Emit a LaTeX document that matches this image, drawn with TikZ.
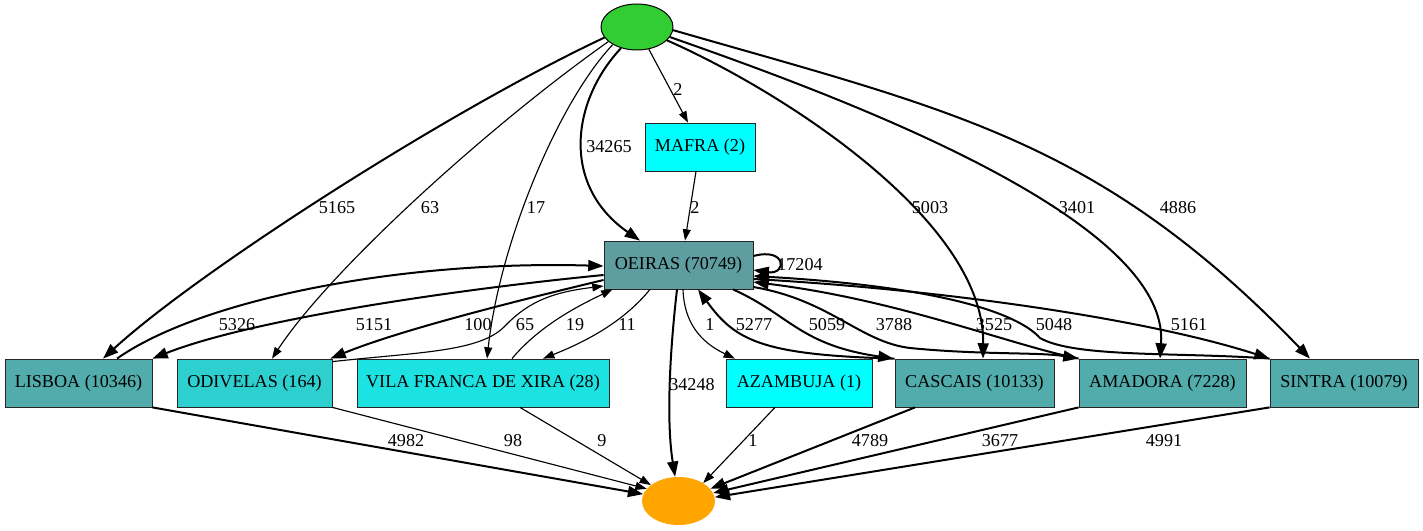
\documentclass[tikz,border=0pt]{standalone}
\usepackage{fontspec}
\setmainfont{Liberation Serif}
\usetikzlibrary{arrows.meta,shapes.geometric,calc}

\definecolor{srcgreen}{HTML}{32CD32}
\definecolor{sinkorange}{HTML}{FFA500}
\definecolor{hubfill}{HTML}{5F9EA0}
\definecolor{bigfill}{HTML}{52ACAC}
\definecolor{odivfill}{HTML}{2ECFCF}
\definecolor{vilafill}{HTML}{1DE2E2}
\definecolor{tinyfill}{HTML}{00FFFF}

\newcommand{\lblfont}{\fontsize{13.6pt}{16pt}\selectfont}

\tikzset{
  box/.style={rectangle, draw=black!85, line width=0.6pt, minimum height=36pt,
    inner sep=0pt, font=\lblfont},
  flowthin/.style={line width=0.85pt, -{Triangle[length=8.5pt,width=6pt]}},
  flowthick/.style={line width=1.5pt, -{Triangle[length=11.5pt,width=8.2pt]}},
  elabel/.style={font=\lblfont, inner sep=0pt}
}

\begin{document}
\begin{tikzpicture}[x=0.75pt, y=-0.75pt]
\useasboundingbox (0,0) rectangle (1423,531);

% terminals
\node[ellipse, draw=black, line width=0.75pt, fill=srcgreen,
      minimum width=54pt, minimum height=34.5pt, inner sep=0pt] (source) at (637,27) {};
\node[ellipse, fill=sinkorange,
      minimum width=54.75pt, minimum height=36pt, inner sep=0pt] (sink) at (678.5,501) {};

% municipalities
\node[box, fill=tinyfill, minimum width=82.5pt]  (mafra)    at (700,147)   {MAFRA (2)};
\node[box, fill=hubfill,  minimum width=111.75pt] (oeiras)  at (678.5,265) {OEIRAS (70749)};
\node[box, fill=bigfill,  minimum width=110.25pt] (lisboa)  at (78.5,383)  {LISBOA (10346)};
\node[box, fill=odivfill, minimum width=116.25pt] (odivelas) at (254.5,383) {ODIVELAS (164)};
\node[box, fill=vilafill, minimum width=189pt]    (vila)    at (483,383)   {VILA FRANCA DE XIRA (28)};
\node[box, fill=tinyfill, minimum width=109.5pt]  (azambuja) at (799,383)  {AZAMBUJA (1)};
\node[box, fill=bigfill,  minimum width=119.25pt] (cascais) at (974.5,383) {CASCAIS (10133)};
\node[box, fill=bigfill,  minimum width=125.25pt] (amadora) at (1162.5,383) {AMADORA (7228)};
\node[box, fill=bigfill,  minimum width=111pt]    (sintra)  at (1344,383)  {SINTRA (10079)};

% flows leaving the source
\draw[flowthick] (source.198) .. controls (450,110) and (200,270) .. ($(lisboa.north)+(24.5,0)$)
  node[elabel] at (337,208) {5165};
\draw[flowthin] (source.207) .. controls (490,125) and (330,270) .. ($(odivelas.north)+(17.5,0)$)
  node[elabel] at (430,208) {63};
\draw[flowthin] (source.216) .. controls (560,100) and (500,240) .. ($(vila.north)+(4,0)$)
  node[elabel] at (536,208) {17};
\draw[flowthick] (source.233) .. controls (572,100) and (560,185) .. ($(oeiras.north)+(-38.5,0)$)
  node[elabel] at (609,147) {34265};
\draw[flowthin] (source.298) -- ($(mafra.north)+(-12,0)$)
  node[elabel] at (678,89) {2};
\draw[flowthick] (source.336) .. controls (780,90) and (985,220) .. ($(cascais.north)+(8.5,0)$)
  node[elabel] at (930,208) {5003};
\draw[flowthick] (source.343) .. controls (850,100) and (1170,220) .. ($(amadora.north)+(-2.5,0)$)
  node[elabel] at (1077,208) {3401};
\draw[flowthick] (source.355) .. controls (950,110) and (1100,140) .. ($(sintra.north)+(-34,0)$)
  node[elabel] at (1178,208) {4886};

% MAFRA into OEIRAS
\draw[flowthin] ($(mafra.south)+(-4,0)$) -- ($(oeiras.north)+(6.5,0)$)
  node[elabel] at (695,207) {2};

% OEIRAS self loop
\draw[flowthick] ($(oeiras.east)+(0,-9)$) .. controls (787,247) and (787,275) .. ($(oeiras.east)+(0,5)$)
  node[elabel] at (800,265) {17204};

% exchanges on the left side
\draw[flowthick] ($(lisboa.north)+(38.5,0)$) .. controls (200,300) and (400,260) .. ($(oeiras.west)+(0,1)$)
  node[elabel] at (237,325) {5326};
\draw[flowthick] ($(oeiras.west)+(0,10)$) .. controls (450,290) and (250,320) .. (lisboa.north east)
  node[elabel] at (374,325) {5151};
\draw[flowthick] ($(oeiras.west)+(0,15)$) .. controls (520,300) and (400,330) .. ($(odivelas.north east)+(-2,0)$)
  node[elabel] at (478,325) {100};
\draw[flowthin] ($(odivelas.north east)+(0,3)$) .. controls (420,352) and (480,352) .. (505,326)
  .. controls (530,300) and (555,292) .. ($(oeiras.west)+(0,21)$)
  node[elabel] at (525,325) {65};
\draw[flowthin] ($(vila.north)+(29,0)$) .. controls (540,325) and (580,305) .. ($(oeiras.south)+(-66,0)$)
  node[elabel] at (575,325) {19};
\draw[flowthin] ($(oeiras.south)+(-28.5,0)$) .. controls (625,320) and (590,340) .. ($(vila.north)+(60,0)$)
  node[elabel] at (627,325) {11};

% OEIRAS downwards
\draw[flowthick] ($(oeiras.south)+(-1.5,0)$) .. controls (670,350) and (666,420) .. (sink.98)
  node[elabel] at (692,385) {34248};
\draw[flowthin] ($(oeiras.south)+(4.5,0)$) .. controls (684,322) and (700,342) .. ($(azambuja.north)+(-64,0)$)
  node[elabel] at (710,325) {1};

% exchanges on the right side
\draw[flowthick] (cascais.north west) .. controls (760,355) and (735,340) .. ($(oeiras.south)+(19.5,0)$)
  node[elabel] at (754,325) {5277};
\draw[flowthick] ($(oeiras.south)+(54.5,0)$) .. controls (790,315) and (800,345) .. ($(cascais.north west)+(-1,0)$)
  node[elabel] at (827,325) {5059};
\draw[flowthick] ($(oeiras.east)+(0,22)$) .. controls (830,300) and (860,342) .. (910,348)
  .. controls (980,355) and (1040,352) .. (amadora.north west)
  node[elabel] at (894,325) {3788};
\draw[flowthick] (amadora.north west) .. controls (1010,345) and (900,300) .. ($(oeiras.east)+(0,17)$)
  node[elabel] at (994,325) {3525};
\draw[flowthick] (sintra.north west) .. controls (1180,352) and (1075,358) .. (1040,338)
  .. controls (1022,318) and (960,288) .. ($(oeiras.east)+(0,11)$)
  node[elabel] at (1054,325) {5048};
\draw[flowthick] ($(oeiras.east)+(0,14)$) .. controls (950,290) and (1150,320) .. (sintra.north west)
  node[elabel] at (1189,325) {5161};

% flows into the sink
\draw[flowthick] (lisboa.south east) -- (sink.169)
  node[elabel] at (406,441) {4982};
\draw[flowthin] (odivelas.south east) -- (sink.159)
  node[elabel] at (513,441) {98};
\draw[flowthin] ($(vila.south)+(37,0)$) -- (sink.150)
  node[elabel] at (602,441) {9};
\draw[flowthin] ($(azambuja.south)+(-24,0)$) -- (sink.36)
  node[elabel] at (753,441) {1};
\draw[flowthick] ($(cascais.south)+(-59.5,0)$) -- (sink.21)
  node[elabel] at (870,441) {4789};
\draw[flowthick] (amadora.south west) -- (sink.13)
  node[elabel] at (1000,441) {3677};
\draw[flowthick] (sintra.south west) -- (sink.6)
  node[elabel] at (1164,441) {4991};
\end{tikzpicture}
\end{document}
